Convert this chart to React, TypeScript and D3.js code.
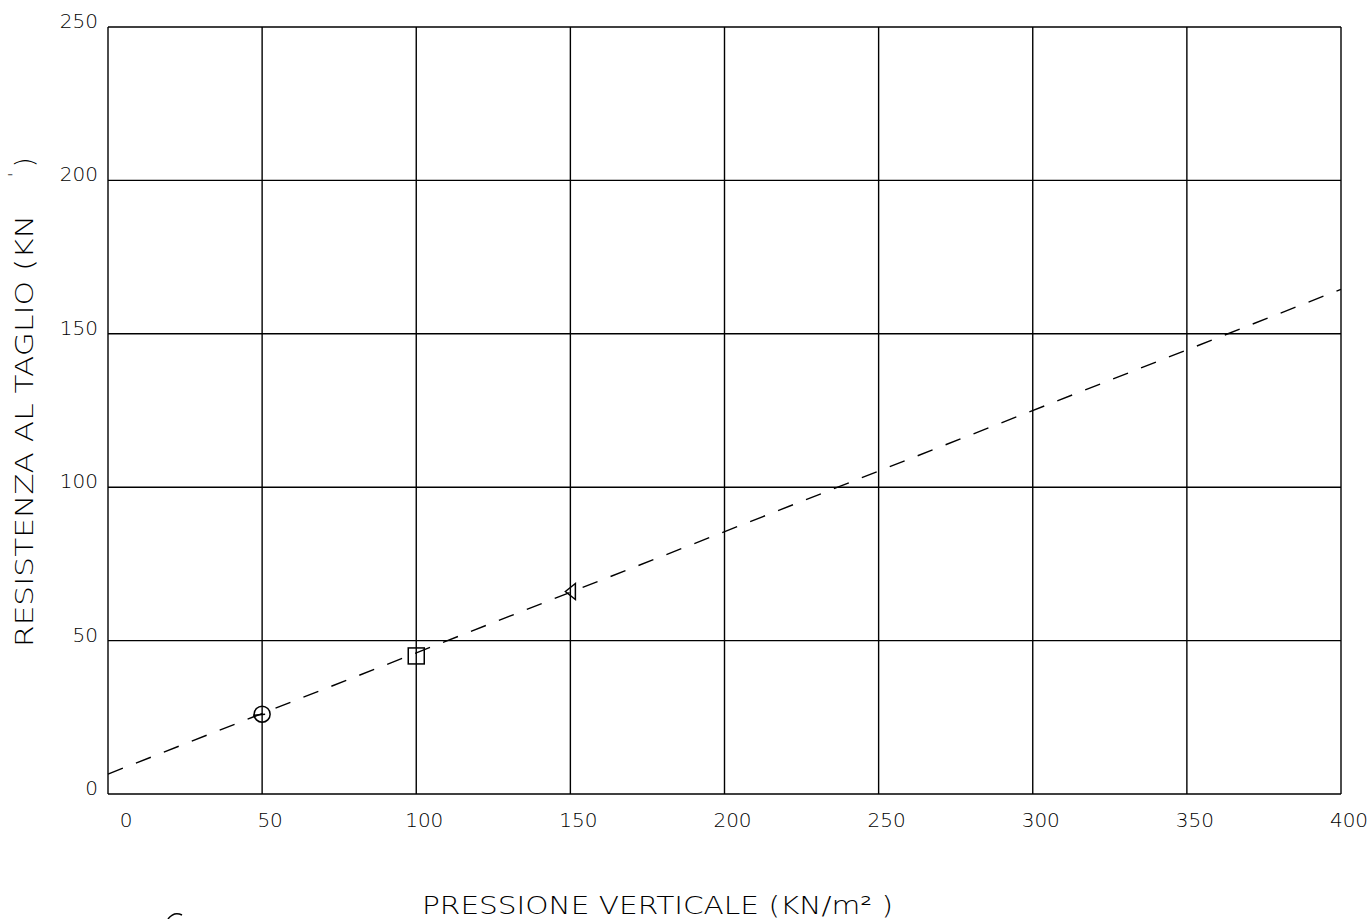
import React from "react";
import * as d3 from "d3";

const xTicks = [0, 50, 100, 150, 200, 250, 300, 350, 400];
const yTicks = [0, 50, 100, 150, 200, 250];
const samples = [
  { p: 50, r: 26, shape: "circle" },
  { p: 100, r: 45, shape: "square" },
  { p: 150, r: 66, shape: "triangle" },
];
const fitLine = [
  { p: 0, r: 6.5 },
  { p: 400, r: 164.5 },
];
const xTitle = "PRESSIONE VERTICALE (KN/m\u00B2 )";
const yTitle = "RESISTENZA AL TAGLIO (KN";

const W = 1368;
const H = 919;
const FONT = "'DejaVu Sans', sans-serif";

export default function App() {
  const x = d3.scaleLinear().domain([0, 400]).range([108, 1341]);
  const y = d3.scaleLinear().domain([0, 250]).range([794, 27]);
  const line = d3
    .line<{ p: number; r: number }>()
    .x((d) => x(d.p))
    .y((d) => y(d.r));

  return (
    <svg
      width={W}
      height={H}
      style={{ position: "absolute", left: 0, top: 0, background: "#fff" }}
    >
      <rect x={0} y={0} width={W} height={H} fill="#fff" />
      {/* grid */}
      <g stroke="#000" strokeWidth={1.4} fill="none">
        {xTicks.map((t) => (
          <line key={"gx" + t} x1={x(t)} x2={x(t)} y1={y(250)} y2={y(0)} />
        ))}
        {yTicks.map((t) => (
          <line key={"gy" + t} x1={x(0)} x2={x(400)} y1={y(t)} y2={y(t)} />
        ))}
      </g>
      {/* tick labels */}
      <g fontFamily={FONT} fontWeight={200} fontSize={20} fill="#000">
        {xTicks.map((t) => (
          <text
            key={"tx" + t}
            x={x(t) + (t === 0 ? 18 : 8)}
            y={827}
            textAnchor="middle"
          >
            {t}
          </text>
        ))}
        {yTicks.map((t) => (
          <text key={"ty" + t} x={98} y={y(t) + 1} textAnchor="end">
            {t}
          </text>
        ))}
      </g>
      {/* fitted line */}
      <path
        d={line(fitLine) || ""}
        stroke="#000"
        strokeWidth={1.4}
        fill="none"
        strokeDasharray="16 14"
      />
      {/* sample markers */}
      <g stroke="#000" strokeWidth={1.5} fill="none">
        {samples.map((s) => {
          const cx = x(s.p);
          const cy = y(s.r);
          if (s.shape === "circle")
            return (
              <g key={s.shape}>
                <circle cx={cx} cy={cy} r={8} />
                <line x1={cx - 9} x2={cx + 3} y1={cy + 1} y2={cy} />
              </g>
            );
          if (s.shape === "square")
            return <rect key={s.shape} x={cx - 8} y={cy - 8} width={16} height={16} />;
          return (
            <path
              key={s.shape}
              d={`M${cx - 5},${cy} L${cx + 5},${cy - 8} L${cx + 5},${cy + 8} Z`}
            />
          );
        })}
      </g>
      {/* axis titles */}
      <g fontFamily={FONT} fontWeight={200} fill="#000">
        <text
          x={422}
          y={914}
          fontSize={24}
          textLength={471}
          lengthAdjust="spacingAndGlyphs"
        >
          {xTitle}
        </text>
        <text
          transform="translate(33,647) rotate(-90)"
          fontSize={24}
          textLength={432}
          lengthAdjust="spacingAndGlyphs"
        >
          {yTitle}
        </text>
        <text transform="translate(33,167) rotate(-90)" fontSize={24}>
          )
        </text>
        <text transform="translate(20,177) rotate(-90)" fontSize={16}>
          '
        </text>
      </g>
      {/* remnant of a cut-off glyph at the bottom edge */}
      <path
        d="M168,919 Q174,911 182,915"
        stroke="#000"
        strokeWidth={1.5}
        fill="none"
      />
    </svg>
  );
}
